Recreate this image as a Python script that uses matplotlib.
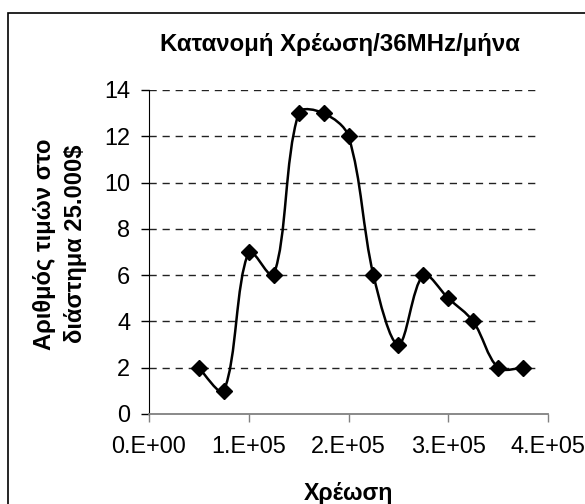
import matplotlib.pyplot as plt
from matplotlib.path import Path
from matplotlib.patches import PathPatch, Rectangle
import numpy as np

plt.rcParams['font.family'] = ['Liberation Sans', 'DejaVu Sans']

charge = [50000, 75000, 100000, 125000, 150000, 175000, 200000,
          225000, 250000, 275000, 300000, 325000, 350000, 375000]
counts = [2, 1, 7, 6, 13, 13, 12, 6, 3, 6, 5, 4, 2, 2]
xticks = [0, 100000, 200000, 300000, 400000]
xlabels = ['0.E+00', '1.E+05', '2.E+05', '3.E+05', '4.E+05']
title = 'Κατανομή Χρέωση/36MHz/μήνα'
xtitle = 'Χρέωση'
ytitle = 'Αριθμός τιμών στο\nδιάστημα 25.000$'

fig = plt.figure(figsize=(5.85, 5.04), dpi=100)
ax = fig.add_axes([149 / 585, 1 - 414 / 504, 399 / 585, 324 / 504])
ax.set_xlim(0, 400000)
ax.set_ylim(0, 14)

# smoothed line like excel: bezier segments, tangents weighted by chord length on screen
pts = ax.transData.transform(np.column_stack([charge, counts]))
n = len(pts)
tang = []
for i in range(n):
    prv = pts[i - 1] if i > 0 else pts[i]
    nxt = pts[i + 1] if i < n - 1 else pts[i]
    tang.append((nxt - prv, np.hypot(*(pts[i] - prv)), np.hypot(*(nxt - pts[i]))))
verts = [pts[0]]
codes = [Path.MOVETO]
for i in range(n - 1):
    t0, a0, b0 = tang[i]
    t1, a1, b1 = tang[i + 1]
    c1 = pts[i] + t0 * (b0 / (a0 + b0)) / 3 if i > 0 else pts[i] + t0 / 6
    c2 = pts[i + 1] - t1 * (a1 / (a1 + b1)) / 3 if i + 1 < n - 1 else pts[i + 1] - t1 / 6
    verts += [c1, c2, pts[i + 1]]
    codes += [Path.CURVE4] * 3
verts = ax.transData.inverted().transform(np.array(verts))
ax.add_patch(PathPatch(Path(verts, codes), fill=False, lw=1.8, color='black', zorder=3))
ax.plot(charge, counts, linestyle='none', marker='D', ms=8, color='black', zorder=4)

ax.set_yticks(range(0, 15, 2))
ax.set_xticks(xticks)
ax.set_xticklabels(xlabels)
for v in range(2, 15, 2):
    ax.axhline(v, xmax=0.98, color='#222222', lw=1, dashes=(5.2, 4.2), zorder=1)
ax.spines['top'].set_visible(False)
ax.spines['right'].set_visible(False)
ax.spines['bottom'].set_color('#808080')
ax.spines['bottom'].set_linewidth(1.3)
ax.tick_params(direction='out', length=5.5, width=1)
ax.tick_params(axis='x', colors='#808080', labelcolor='black', pad=10)
ax.tick_params(axis='y', pad=8)

t1 = fig.text(340 / 585, 1 - 51 / 504, title, ha='center', va='baseline',
              fontsize=14, fontweight='bold')
t2 = fig.text(348 / 585, 1 - 500 / 504, xtitle, ha='center', va='baseline',
              fontsize=14, fontweight='bold')
t3 = fig.text(60 / 585, 1 - 244 / 504, ytitle, ha='center', va='center',
              rotation=90, fontsize=14, fontweight='bold', linespacing=1.4)

# match text widths measured on the reference (pixels)
r = fig.canvas.get_renderer()
for t, w in [(t1, 360), (t2, 90)]:
    t.set_fontsize(t.get_fontsize() * w / t.get_window_extent(r).width)
t3.set_fontsize(t3.get_fontsize() * 212 / t3.get_window_extent(r).height)
probe = ax.get_xticklabels()[0]
size = 75 / probe.get_window_extent(r).width * probe.get_fontsize()
ax.tick_params(labelsize=size)

fig.patches.append(Rectangle((7.5 / 585, -0.1), 1.2, 1 - 12.5 / 504 + 0.1, transform=fig.transFigure,
                             fill=False, edgecolor='black', lw=1.2))

fig.savefig('out.png', dpi=100)
